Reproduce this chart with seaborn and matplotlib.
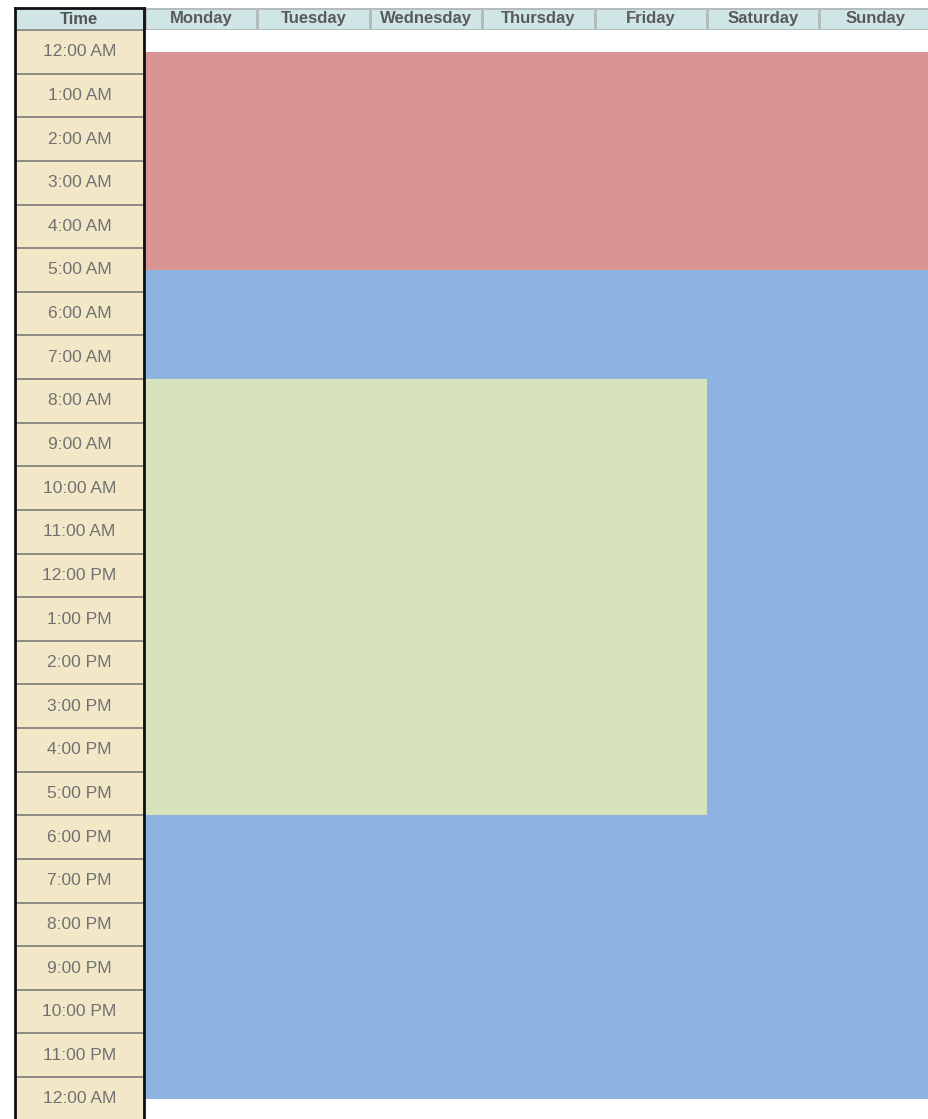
import numpy as np
import matplotlib
matplotlib.use("Agg")
import matplotlib.pyplot as plt
import seaborn as sns
from matplotlib.colors import ListedColormap
from matplotlib.patches import Rectangle

# --- data ---
days = ["Monday", "Tuesday", "Wednesday", "Thursday", "Friday", "Saturday", "Sunday"]
time_labels = ["12:00 AM", "1:00 AM", "2:00 AM", "3:00 AM", "4:00 AM", "5:00 AM",
               "6:00 AM", "7:00 AM", "8:00 AM", "9:00 AM", "10:00 AM", "11:00 AM",
               "12:00 PM", "1:00 PM", "2:00 PM", "3:00 PM", "4:00 PM", "5:00 PM",
               "6:00 PM", "7:00 PM", "8:00 PM", "9:00 PM", "10:00 PM", "11:00 PM",
               "12:00 AM"]
activities = ["Sleep", "Free time", "Work"]
act_start = [0, 5, 7.5]      # hours
act_end = [5, 24, 17.5]
act_days = [days, days, days[:5]]
act_colors = ["#d99594", "#8eb3e0", "#d7e3bd"]

# --- layout (pixels) ---
W, H = 929, 1119
ROW = 43.63          # one hour
HDR_TOP, HDR_BOT = 8, 30
COL_L, COL_R = 15, 144
DAY_L, DAY_W = 145, 112.4
BOT = HDR_BOT + 25 * ROW

sns.set_style("white")
plt.rcParams["font.family"] = ["Liberation Sans", "DejaVu Sans"]

fig = plt.figure(figsize=(W / 100, H / 100), dpi=100)

def rect(x0, y0, x1, y1):
    return [x0 / W, 1 - y1 / H, (x1 - x0) / W, (y1 - y0) / H]

xmax = (W - DAY_L) / DAY_W

# schedule grid in half-hour rows
grid = np.full((48, len(days)), np.nan)
for k in range(len(activities)):
    cols = [days.index(d) for d in act_days[k]]
    grid[int(act_start[k] * 2):int(act_end[k] * 2), cols] = k

ax_s = fig.add_axes(rect(DAY_L, HDR_BOT, W, BOT))
sns.heatmap(grid, cmap=ListedColormap(act_colors), vmin=-0.5, vmax=len(activities) - 0.5,
            cbar=False, xticklabels=False, yticklabels=False, ax=ax_s)
ax_s.set_xlim(0, xmax)
ax_s.set_ylim(49, -1)
ax_s.axis("off")

# day header
ax_h = fig.add_axes(rect(DAY_L, HDR_TOP, W, HDR_BOT))
sns.heatmap(np.zeros((1, len(days))), cmap=ListedColormap(["#d0e5e5"]),
            annot=np.array([days]), fmt="", cbar=False, linewidths=1.0, linecolor="#b3bbbb",
            xticklabels=False, yticklabels=False, ax=ax_h,
            annot_kws=dict(fontsize=12, fontweight="bold", color="#5a5a5a"))
ax_h.set_xlim(0, xmax)
ax_h.set_ylim(1, 0)

# time column
ax_t = fig.add_axes(rect(COL_L, HDR_TOP, COL_R, BOT))
sns.heatmap(np.zeros((len(time_labels), 1)), cmap=ListedColormap(["#f2e8c8"]),
            annot=np.array(time_labels).reshape(-1, 1), fmt="", cbar=False,
            linewidths=1.3, linecolor="#908d85", xticklabels=False, yticklabels=False,
            ax=ax_t, annot_kws=dict(fontsize=12.5, color="#717171"))
hdr = (HDR_BOT - HDR_TOP) / ROW
ax_t.set_ylim(len(time_labels), -hdr)
ax_t.add_patch(Rectangle((0, -hdr), 1, hdr, facecolor="#d0e5e5", edgecolor="#908d85", lw=1.3))
ax_t.text(0.5, -hdr / 2, "Time", ha="center", va="center", fontsize=12,
          fontweight="bold", color="#555555")
for s in ax_t.spines.values():
    s.set_visible(True)
    s.set_color("#111111")
    s.set_linewidth(2)

fig.savefig("out.png", dpi=100)
